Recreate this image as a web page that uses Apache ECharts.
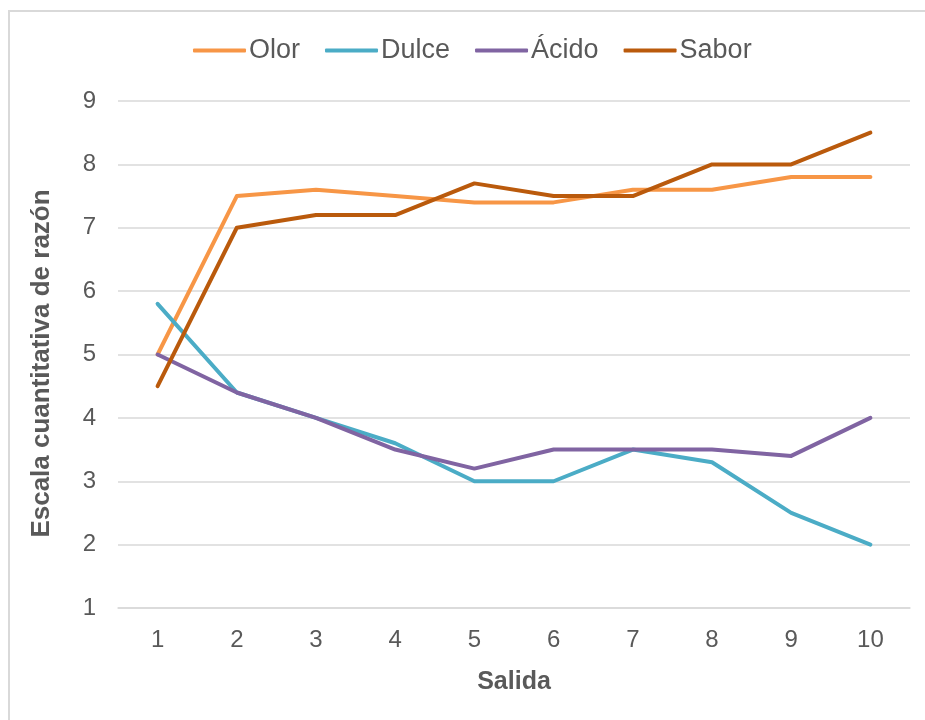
<!DOCTYPE html>
<html>
<head>
<meta charset="utf-8">
<script src="https://cdn.jsdelivr.net/npm/echarts@6/dist/echarts.min.js"></script>
<style>
  html, body { margin: 0; padding: 0; background: #fff; }
  #chart { width: 925px; height: 720px; }
</style>
</head>
<body>
<div id="chart"></div>
<script>
// datos
var salidas = ['1', '2', '3', '4', '5', '6', '7', '8', '9', '10'];
var olor = [5.0, 7.5, 7.6, 7.5, 7.4, 7.4, 7.6, 7.6, 7.8, 7.8];
var dulce = [5.8, 4.4, 4.0, 3.6, 3.0, 3.0, 3.5, 3.3, 2.5, 2.0];
var acido = [5.0, 4.4, 4.0, 3.5, 3.2, 3.5, 3.5, 3.5, 3.4, 4.0];
var sabor = [4.5, 7.0, 7.2, 7.2, 7.7, 7.5, 7.5, 8.0, 8.0, 8.5];

var colores = ['#F79646', '#4BACC6', '#8064A2', '#BA5A0C'];
var fuente = 'Liberation Sans, Arial, sans-serif';

function linea(nombre, datos) {
    return {
        name: nombre,
        type: 'line',
        data: datos,
        symbol: 'none',
        lineStyle: { width: 4, cap: 'round', join: 'round' }
    };
}

var myChart = echarts.init(document.getElementById('chart'));

var option = {
    animation: false,
    color: colores,
    textStyle: { fontFamily: fuente },
    graphic: [{
        type: 'rect',
        shape: { x: 9, y: 11, width: 1000, height: 800 },
        style: { fill: 'none', stroke: '#d9d9d9', lineWidth: 2 },
        silent: true
    }],
    legend: {
        top: 32,
        left: 188,
        itemWidth: 53,
        itemHeight: 4,
        itemGap: 25,
        icon: 'roundRect',
        textStyle: { fontSize: 27, color: '#595959', fontFamily: fuente, padding: [0, 0, 0, -2] },
        data: ['Olor', 'Dulce', 'Ácido', 'Sabor']
    },
    grid: { left: 118, right: 15, top: 101, bottom: 112 },
    xAxis: {
        type: 'category',
        data: salidas,
        boundaryGap: true,
        name: 'Salida',
        nameLocation: 'middle',
        nameGap: 62,
        nameTextStyle: { fontSize: 25, fontWeight: 'bold', color: '#595959', fontFamily: fuente },
        axisLine: { show: true, lineStyle: { color: '#d9d9d9', width: 1.5 } },
        axisTick: { show: false },
        axisLabel: { fontSize: 24, color: '#595959', margin: 20 }
    },
    yAxis: {
        type: 'value',
        min: 1,
        max: 9,
        interval: 1,
        name: 'Escala cuantitativa de razón',
        nameLocation: 'middle',
        nameGap: 63,
        nameTextStyle: {
            fontSize: 26, fontWeight: 'bold', color: '#595959', fontFamily: fuente,
            padding: [0, 18, 0, 0]
        },
        axisLine: { show: false },
        axisTick: { show: false },
        axisLabel: { fontSize: 24, color: '#595959', margin: 22 },
        splitLine: { lineStyle: { color: '#d9d9d9', width: 1.5 } }
    },
    series: [
        linea('Olor', olor),
        linea('Dulce', dulce),
        linea('Ácido', acido),
        linea('Sabor', sabor)
    ]
};

myChart.setOption(option, true);
</script>
</body>
</html>
